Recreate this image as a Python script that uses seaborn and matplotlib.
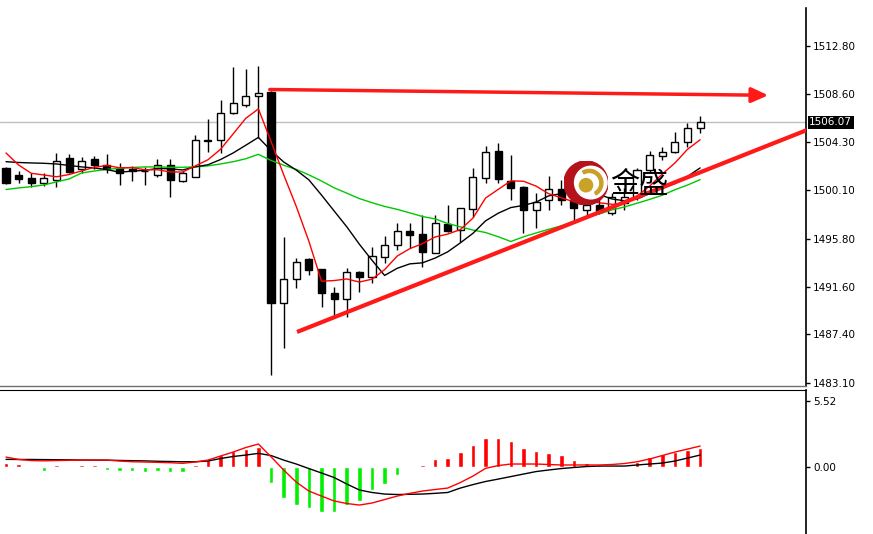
import numpy as np
import pandas as pd
import seaborn as sns
import matplotlib.pyplot as plt
import matplotlib.transforms as mtransforms
from matplotlib.patches import Circle, Wedge

# candle data (price)
opens = [1502.02, 1501.43, 1501.14, 1500.75, 1500.99, 1502.90, 1501.93, 1502.82, 1502.31, 1502.02,
         1501.93, 1501.81, 1501.43, 1502.31, 1500.93, 1501.28, 1504.43, 1504.52, 1506.87, 1507.60,
         1508.42, 1508.72, 1490.18, 1492.24, 1494.03, 1493.15, 1491.01, 1490.51, 1492.91, 1492.47,
         1494.24, 1495.27, 1496.53, 1496.23, 1494.59, 1497.12, 1496.59, 1498.41, 1501.14, 1503.57,
         1500.93, 1500.35, 1498.35, 1499.23, 1500.17, 1499.23, 1498.35, 1498.79, 1498.06, 1498.97,
         1499.52, 1501.87, 1503.11, 1503.49, 1504.37, 1505.55]
highs = [1502.16, 1501.81, 1501.58, 1501.58, 1503.40, 1503.28, 1503.05, 1503.11, 1503.28, 1502.46,
         1502.23, 1502.14, 1502.81, 1502.81, 1501.78, 1504.96, 1506.34, 1508.04, 1510.92, 1510.74,
         1511.04, 1508.79, 1496.00, 1494.09, 1494.09, 1493.15, 1491.59, 1493.21, 1492.97, 1495.12,
         1496.06, 1497.18, 1497.18, 1497.91, 1497.91, 1498.79, 1498.52, 1502.02, 1503.99, 1504.22,
         1503.19, 1500.46, 1499.87, 1501.34, 1501.00, 1499.52, 1499.23, 1499.23, 1499.85, 1500.29,
         1502.05, 1503.57, 1503.93, 1505.25, 1505.99, 1506.63]
lows = [1500.64, 1500.75, 1500.35, 1500.46, 1500.40, 1501.58, 1501.58, 1501.93, 1501.58, 1500.55,
        1500.93, 1500.55, 1501.28, 1499.49, 1500.81, 1501.23, 1503.49, 1503.34, 1506.80, 1507.45,
        1504.67, 1483.81, 1486.17, 1491.45, 1492.62, 1489.83, 1488.81, 1488.90, 1491.15, 1491.94,
        1493.71, 1494.83, 1494.98, 1493.35, 1494.53, 1496.44, 1495.56, 1497.76, 1500.70, 1500.70,
        1499.23, 1496.30, 1496.74, 1498.35, 1498.79, 1497.18, 1497.91, 1497.96, 1497.91, 1498.35,
        1499.23, 1501.72, 1502.75, 1503.34, 1503.93, 1505.10]
closes = [1500.75, 1501.08, 1500.70, 1501.14, 1502.69, 1501.72, 1502.69, 1502.31, 1501.93, 1501.64,
          1501.81, 1501.74, 1502.31, 1500.99, 1501.58, 1504.52, 1504.47, 1506.87, 1507.80, 1508.42,
          1508.68, 1490.18, 1492.24, 1493.79, 1493.06, 1491.06, 1490.51, 1492.91, 1492.47, 1494.30,
          1495.27, 1496.50, 1496.15, 1494.68, 1497.23, 1496.53, 1498.50, 1501.23, 1503.49, 1501.05,
          1500.26, 1498.35, 1499.08, 1500.17, 1499.23, 1498.50, 1498.79, 1498.20, 1499.52, 1499.49,
          1501.87, 1503.19, 1503.49, 1504.37, 1505.55, 1506.07]

# moving averages
ma_fast = [1503.37, 1502.31, 1501.58, 1501.43, 1501.27, 1501.47, 1501.79, 1502.11, 1502.27, 1502.06,
           1502.08, 1501.89, 1501.89, 1501.70, 1501.69, 1502.23, 1502.77, 1503.69, 1505.05, 1506.42,
           1507.25, 1504.39, 1501.46, 1498.66, 1495.59, 1492.07, 1492.13, 1492.27, 1492.00, 1492.25,
           1493.09, 1494.29, 1494.94, 1495.38, 1495.97, 1496.22, 1496.62, 1497.63, 1499.40, 1500.16,
           1500.91, 1500.88, 1500.45, 1499.78, 1499.42, 1499.07, 1499.15, 1498.98, 1498.85, 1498.90,
           1499.57, 1500.45, 1501.51, 1502.48, 1503.69, 1504.53]
ma_mid = [1502.60, 1502.53, 1502.49, 1502.46, 1502.40, 1502.27, 1502.14, 1502.05, 1501.90, 1501.67,
          1501.77, 1501.84, 1502.00, 1501.98, 1501.87, 1502.15, 1502.33, 1502.79, 1503.37, 1504.05,
          1504.74, 1503.58, 1502.58, 1501.86, 1501.00, 1499.66, 1498.26, 1496.87, 1495.33, 1493.92,
          1492.58, 1493.21, 1493.60, 1493.69, 1494.11, 1494.66, 1495.45, 1496.29, 1497.39, 1498.06,
          1498.56, 1498.75, 1499.04, 1499.59, 1499.79, 1499.99, 1500.02, 1499.71, 1499.32, 1499.16,
          1499.32, 1499.80, 1500.25, 1500.67, 1501.30, 1502.05]
ma_slow = [1500.15, 1500.29, 1500.40, 1500.55, 1500.82, 1501.08, 1501.61, 1501.78, 1501.92, 1502.02,
           1502.09, 1502.14, 1502.14, 1502.11, 1502.11, 1502.14, 1502.23, 1502.40, 1502.60, 1502.86,
           1503.25, 1502.71, 1502.29, 1501.92, 1501.44, 1500.90, 1500.30, 1499.83, 1499.35, 1498.99,
           1498.66, 1498.40, 1498.09, 1497.77, 1497.56, 1497.16, 1496.86, 1496.58, 1496.36, 1495.99,
           1495.57, 1495.98, 1496.32, 1496.64, 1496.95, 1497.32, 1497.73, 1498.00, 1498.35, 1498.61,
           1498.94, 1499.28, 1499.64, 1500.13, 1500.54, 1501.02]

# MACD panel
macd_main = [0.79, 0.59, 0.50, 0.48, 0.50, 0.52, 0.54, 0.54, 0.54, 0.46,
             0.40, 0.38, 0.35, 0.32, 0.27, 0.38, 0.54, 0.88, 1.21, 1.59,
             1.88, 0.82, -0.29, -1.30, -2.05, -2.47, -2.88, -3.09, -3.22, -3.05,
             -2.76, -2.47, -2.24, -2.05, -1.92, -1.80, -1.34, -0.80, -0.15, 0.08,
             0.21, 0.21, 0.21, 0.17, 0.13, 0.13, 0.13, 0.13, 0.17, 0.25,
             0.40, 0.63, 0.92, 1.21, 1.46, 1.71]
macd_signal = [0.60, 0.59, 0.59, 0.58, 0.57, 0.56, 0.54, 0.54, 0.53, 0.51,
               0.49, 0.47, 0.44, 0.42, 0.40, 0.40, 0.46, 0.67, 0.84, 0.96,
               1.10, 0.92, 0.54, 0.21, -0.17, -0.54, -0.92, -1.46, -1.96, -2.17,
               -2.30, -2.34, -2.32, -2.30, -2.24, -2.17, -1.80, -1.51, -1.25, -1.05,
               -0.84, -0.63, -0.42, -0.29, -0.17, -0.08, 0.00, 0.04, 0.04, 0.04,
               0.13, 0.21, 0.29, 0.46, 0.71, 0.96]
macd_hist = [0.30, 0.20, -0.15, -0.35, 0.10, -0.10, 0.10, 0.10, -0.30, -0.35,
             -0.40, -0.45, -0.35, -0.45, -0.45, 0.10, 0.55, 0.95, 1.30, 1.45,
             1.60, -1.35, -2.65, -3.20, -3.50, -3.80, -3.80, -3.20, -2.90, -1.95,
             -1.45, -0.70, -0.10, 0.10, 0.60, 0.69, 1.24, 1.80, 2.41, 2.41,
             2.16, 1.52, 1.32, 1.15, 0.96, 0.54, 0.32, 0.12, 0.05, 0.05,
             0.40, 0.82, 1.05, 1.24, 1.38, 1.52]

price_ticks = [1512.80, 1508.60, 1504.30, 1500.10, 1495.80, 1491.60, 1487.40, 1483.10]
macd_ticks = [5.52, 0.00]
last_price = 1506.07

# drawn objects (bar index, price)
arrow_start = (20.9, 1508.96)
arrow_end = (60.4, 1508.45)
trend_start = (23.06, 1487.60)
trend_end = (63.6, 1505.45)
logo_text = "金盛"
logo_pos = (47.9, 1500.55)

df = pd.DataFrame({"i": np.arange(len(closes)), "open": opens, "high": highs, "low": lows,
                   "close": closes, "ma_fast": ma_fast, "ma_mid": ma_mid, "ma_slow": ma_slow,
                   "macd": macd_main, "signal": macd_signal, "hist": macd_hist})

sns.set_style("white")
plt.rcParams["font.family"] = ["DejaVu Sans"]

W, H = 873, 534
fig = plt.figure(figsize=(W / 100, H / 100), dpi=100)
ax = fig.add_axes([0, 1 - 386 / H, 806 / W, 378 / H])
axm = fig.add_axes([0, 0, 806 / W, 144.5 / H])

xlim = (-0.475, 63.39)

# candles
up = df["close"] >= df["open"]
ax.vlines(df["i"], df["low"], df["high"], color="black", lw=1, zorder=2)
body_lo = np.minimum(df["open"], df["close"])
body_h = (df["close"] - df["open"]).abs()
ax.bar(df["i"], body_h, bottom=body_lo, width=0.56,
       color=np.where(up, "white", "black"), edgecolor="black", linewidth=1, zorder=3)

sns.lineplot(data=df, x="i", y="ma_slow", ax=ax, color="#00c800", lw=1, zorder=4, estimator=None)
sns.lineplot(data=df, x="i", y="ma_mid", ax=ax, color="black", lw=1, zorder=4, estimator=None)
sns.lineplot(data=df, x="i", y="ma_fast", ax=ax, color="red", lw=1, zorder=4, estimator=None)

ax.axhline(last_price, color="#c0c0c0", lw=1, zorder=1)

ax.plot([trend_start[0], trend_end[0]], [trend_start[1], trend_end[1]], color="#ff1a1a",
        lw=3, solid_capstyle="butt", zorder=5)
ax.annotate("", xy=arrow_end, xytext=arrow_start,
            arrowprops=dict(arrowstyle="-|>,head_length=1.0,head_width=0.45", color="#ff1a1a",
                            lw=2.5, shrinkA=0, shrinkB=0), zorder=5)

ax.text(logo_pos[0], logo_pos[1], logo_text, fontsize=21, family=["Noto Sans CJK SC"],
        fontweight="medium", va="center", ha="left", color="black", zorder=7)

ax.set_xlim(*xlim)
ax.set_ylim(1482.84, 1516.14)
ax.set_xticks([])
ax.yaxis.tick_right()
ax.set_yticks(price_ticks)
ax.set_yticklabels([f"{t:.2f}" for t in price_ticks])
ax.tick_params(axis="y", length=3, width=1, pad=2, labelsize=7.5, colors="black")
for s in ["left", "top"]:
    ax.spines[s].set_visible(False)
ax.spines["right"].set_color("black")
ax.spines["right"].set_linewidth(1.2)
ax.spines["bottom"].set_color("#707070")
ax.spines["bottom"].set_linewidth(1)
ax.set_xlabel("")
ax.set_ylabel("")

trans = mtransforms.blended_transform_factory(ax.transAxes, ax.transData)
ax.text(1.004, last_price, f"{last_price:.2f}", transform=trans, color="white", fontsize=7.5,
        va="center", ha="left", bbox=dict(facecolor="black", edgecolor="none", pad=1.2), zorder=8,
        clip_on=False)

# MACD panel
hist_colors = np.where(df["hist"] >= 0, "#ff0000", "#00f000")
axm.bar(df["i"], df["hist"], width=0.36, color=hist_colors, zorder=2)
sns.lineplot(data=df, x="i", y="signal", ax=axm, color="black", lw=1, zorder=3, estimator=None)
sns.lineplot(data=df, x="i", y="macd", ax=axm, color="red", lw=1, zorder=3, estimator=None)
axm.set_xlim(*xlim)
axm.set_ylim(-5.64, 6.44)
axm.set_xticks([])
axm.yaxis.tick_right()
axm.set_yticks(macd_ticks)
axm.set_yticklabels([f"{t:.2f}" for t in macd_ticks])
axm.tick_params(axis="y", length=3, width=1, pad=2, labelsize=7.5, colors="black")
for s in ["left", "bottom"]:
    axm.spines[s].set_visible(False)
axm.spines["top"].set_color("black")
axm.spines["right"].set_color("black")
axm.spines["right"].set_linewidth(1.2)
axm.set_xlabel("")
axm.set_ylabel("")

# logo mark
cx, cy, r = 586, 183, 22
lax = fig.add_axes([(cx - r) / W, 1 - (cy + r) / H, 2 * r / W, 2 * r / H])
lax.set_xlim(-1, 1)
lax.set_ylim(-1, 1)
lax.set_aspect("equal")
lax.axis("off")
lax.add_patch(Circle((0, 0), 1.0, color="#b5121b"))
lax.add_patch(Circle((0.22, 0.02), 0.74, color="white"))
lax.add_patch(Wedge((0.15, 0.0), 0.62, -60, 120, width=0.14, color="#c8a02a"))
lax.add_patch(Circle((0.0, -0.1), 0.3, color="#c9a227"))

fig.savefig("out.png", dpi=100)
